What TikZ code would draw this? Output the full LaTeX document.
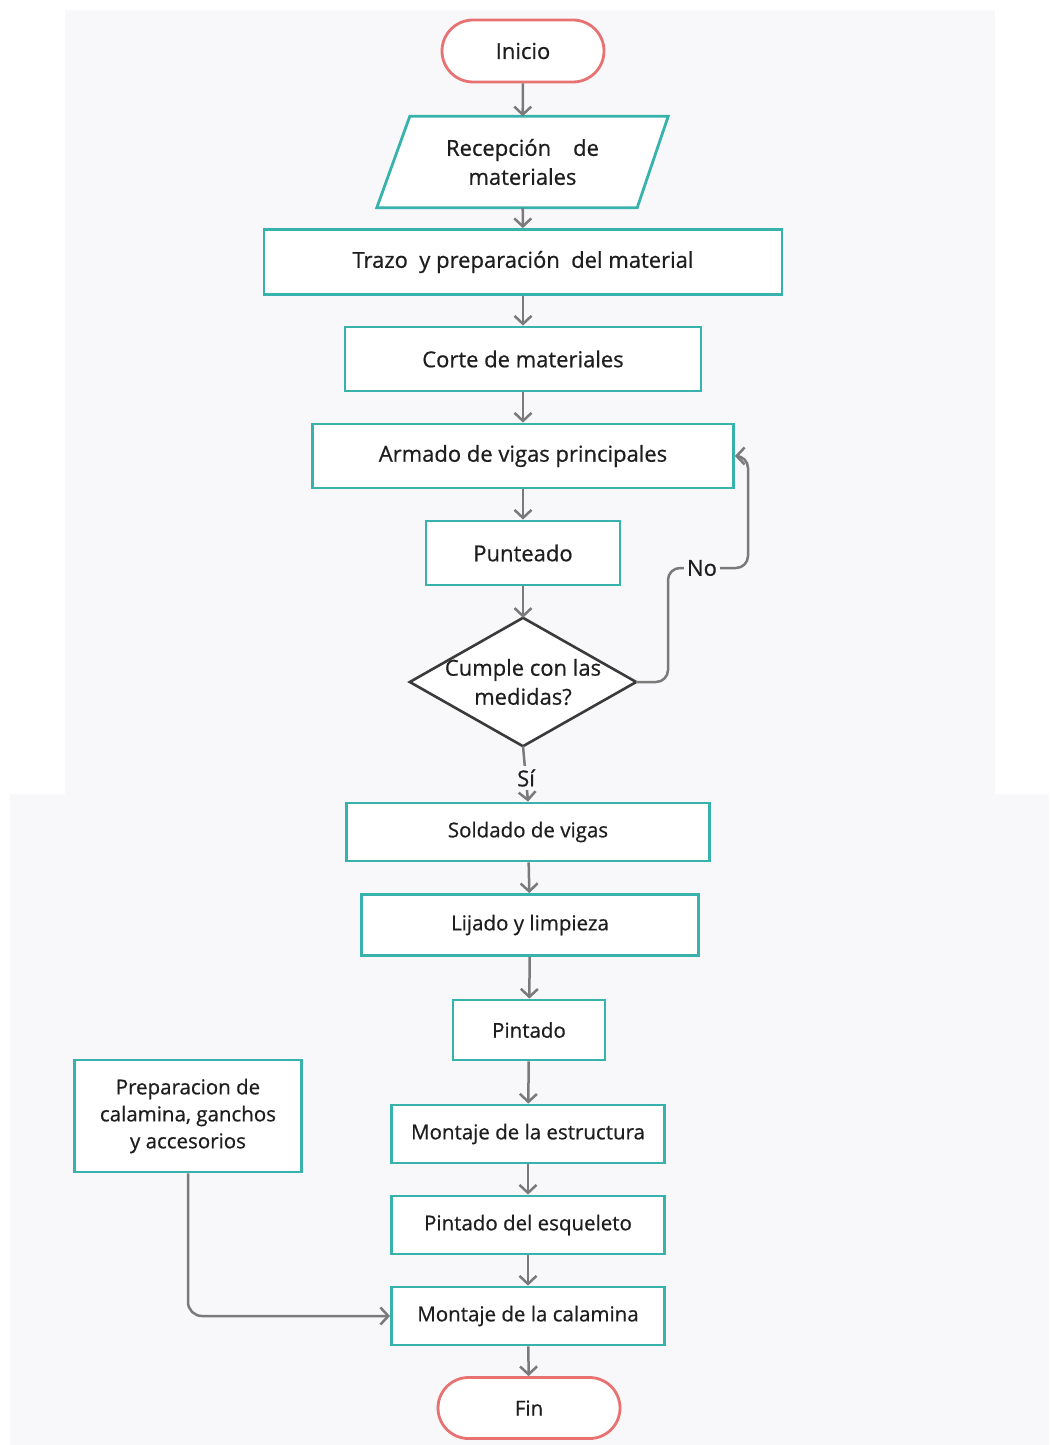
\documentclass[tikz,border=0pt]{standalone}
\usepackage{fontspec}
\setmainfont{Open Sans}[FakeBold=0.6]
\usetikzlibrary{arrows.meta,shapes.misc,calc}

\definecolor{panel}{RGB}{248,248,250}
\definecolor{tealc}{RGB}{56,178,172}
\definecolor{redc}{RGB}{232,114,114}
\definecolor{linec}{RGB}{122,122,122}
\definecolor{decc}{RGB}{58,58,58}
\definecolor{txt}{RGB}{30,30,30}

\tikzset{
  big/.style={font=\fontsize{22}{29}\selectfont},
  small/.style={font=\fontsize{20.5}{27}\selectfont},
  procbox/.style={draw=tealc, line width=2.8pt, fill=white, rectangle,
    inner sep=0pt, align=center, text=txt},
  termbox/.style={draw=redc, line width=2.8pt, fill=white, rounded rectangle,
    inner sep=0pt, align=center, text=txt},
  ghost/.style={rectangle, inner sep=0pt, align=center, text=txt},
  conn/.style={draw=linec, line width=2.5pt,
    -{Straight Barb[length=8pt,width=17pt,line width=2.5pt]}},
  lbl/.style={fill=panel, inner sep=3pt, text=txt, big}
}

\begin{document}
\begin{tikzpicture}[x=1pt, y=-1pt]
  \useasboundingbox (0,0) rectangle (1049,1445);
  % background panels
  \fill[panel] (65,10) rectangle (995,794);
  \fill[panel] (10,794) rectangle (1049,1445);

  % upper part of the flow
  \node[termbox, big, minimum width=162, minimum height=62] (inicio) at (523,51) {Inicio};

  \node[ghost, big, minimum width=291, minimum height=91] (recv) at (522.5,162) {};
  \draw[tealc, line width=2.8pt, fill=white, line join=miter]
    (recv.south west) -- ($(recv.north west)+(33,0)$) --
    (recv.north east) -- ($(recv.south east)+(-31,0)$) -- cycle;
  \node[ghost, big] at (recv) {Recepción\quad de\\materiales};

  \node[procbox, big, minimum width=518, minimum height=65] (trazo) at (523,262) {Trazo \ y preparación \ del material};
  \node[procbox, big, minimum width=356, minimum height=64] (corte) at (523,359) {Corte de materiales};
  \node[procbox, big, minimum width=421, minimum height=64] (armado) at (523,456) {Armado de vigas principales};
  \node[procbox, big, minimum width=194, minimum height=64] (punteado) at (523,553) {Punteado};

  \node[ghost, minimum width=226, minimum height=128] (dec) at (523,682) {};
  \draw[decc, line width=2.6pt, fill=white, line join=miter]
    (dec.north) -- (dec.east) -- (dec.south) -- (dec.west) -- cycle;
  \node[ghost, big] at (dec) {Cumple con las\\medidas?};

  % lower part of the flow
  \node[procbox, small, minimum width=363, minimum height=58] (soldado) at (528,832) {Soldado de vigas};
  \node[procbox, small, minimum width=337, minimum height=61] (lijado) at (530,925) {Lijado y limpieza};
  \node[procbox, small, minimum width=152, minimum height=60] (pintado) at (529,1030) {Pintado};
  \node[procbox, small, minimum width=273, minimum height=58] (montaje) at (528,1134) {Montaje de la estructura};
  \node[procbox, small, minimum width=273, minimum height=58] (esqueleto) at (528,1225) {Pintado del esqueleto};
  \node[procbox, small, minimum width=273, minimum height=58] (calamina) at (528,1316) {Montaje de la calamina};
  \node[termbox, small, minimum width=182, minimum height=61] (fin) at (529,1408) {Fin};

  \node[procbox, small, minimum width=227, minimum height=112] (prep) at (188,1116) {Preparacion de\\calamina, ganchos\\y accesorios};

  % connectors
  \draw[conn] (inicio) -- (recv);
  \draw[conn] (recv) -- (trazo);
  \draw[conn] (trazo) -- (corte);
  \draw[conn] (corte) -- (armado);
  \draw[conn] (armado) -- (punteado);
  \draw[conn] (punteado) -- (dec.north);

  % rejected: back to assembly
  \draw[conn, rounded corners=12] (dec.east) -- (668,682) -- (668,568) -- (748,568)
    -- (748,456) -- (armado.east);
  \node[lbl] (no) at (702,568) {No};

  % accepted
  \draw[conn] (dec.south) -- (soldado.north);
  \node[lbl] (si) at (526,778) {Sí};

  \draw[conn] (soldado) -- (lijado);
  \draw[conn] (lijado) -- (pintado);
  \draw[conn] (pintado) -- (montaje);
  \draw[conn] (montaje) -- (esqueleto);
  \draw[conn] (esqueleto) -- (calamina);
  \draw[conn] (calamina) -- (fin);
  \draw[conn, rounded corners=14] (prep.south) |- (calamina.west);
\end{tikzpicture}
\end{document}
